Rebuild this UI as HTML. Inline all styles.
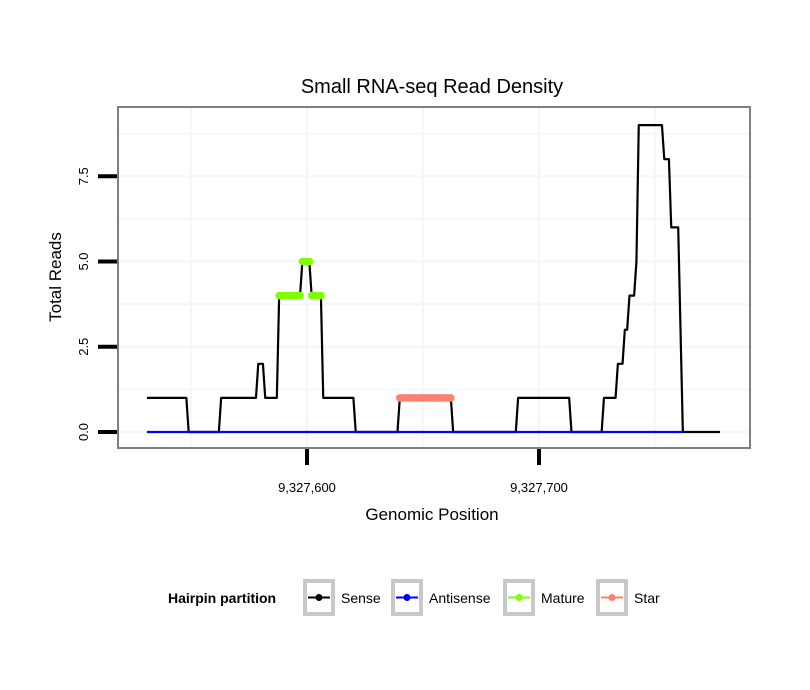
<!DOCTYPE html>
<html><head><meta charset="utf-8">
<style>
body{margin:0;background:#fff;}
svg{display:block;font-family:"Liberation Sans",Arial,sans-serif;}
</style></head>
<body>
<svg id="chart" width="810" height="690" viewBox="0 0 810 690" xmlns="http://www.w3.org/2000/svg">
<rect x="0" y="0" width="810" height="690" fill="#fff"/>
<text x="432" y="93" font-size="20" text-anchor="middle" fill="#000">Small RNA-seq Read Density</text>
<g id="grid"></g>
<g id="series"></g>
<rect x="118" y="107" width="632" height="341" fill="none" stroke="#7f7f7f" stroke-width="2"/>
<g id="axes"></g>
<text x="432" y="520" font-size="17" text-anchor="middle">Genomic Position</text>
<text transform="translate(61,277) rotate(-90)" font-size="17" text-anchor="middle">Total Reads</text>
<g>
<text x="168" y="603" font-size="14" font-weight="bold">Hairpin partition</text>
<g>
<rect x="305" y="581" width="28" height="33" fill="#fff" stroke="#c8c8c8" stroke-width="4"/>
<line x1="308" y1="597.5" x2="330" y2="597.5" stroke="#000" stroke-width="2"/><circle cx="319" cy="597.5" r="3.5" fill="#000"/>
<text x="341" y="603" font-size="14">Sense</text></g>
<g>
<rect x="393" y="581" width="28" height="33" fill="#fff" stroke="#c8c8c8" stroke-width="4"/>
<line x1="396" y1="597.5" x2="418" y2="597.5" stroke="#0000ff" stroke-width="2"/><circle cx="407" cy="597.5" r="3.5" fill="#0000ff"/>
<text x="429" y="603" font-size="14">Antisense</text></g>
<g>
<rect x="505" y="581" width="28" height="33" fill="#fff" stroke="#c8c8c8" stroke-width="4"/>
<line x1="508" y1="597.5" x2="530" y2="597.5" stroke="#7fff00" stroke-width="2"/><circle cx="519" cy="597.5" r="3.5" fill="#7fff00"/>
<text x="541" y="603" font-size="14">Mature</text></g>
<g>
<rect x="598" y="581" width="28" height="33" fill="#fff" stroke="#c8c8c8" stroke-width="4"/>
<line x1="601" y1="597.5" x2="623" y2="597.5" stroke="#fa8072" stroke-width="2"/><circle cx="612" cy="597.5" r="3.5" fill="#fa8072"/>
<text x="634" y="603" font-size="14">Star</text></g>
</g>
</svg>
<script>
// data (positions are offsets from 9,327,600)
const senseX = [-69,-52,-51,-38,-37,-22,-21,-19,-18,-13,-12,-3,-2,1,2,6,7,20,21,39,40,62,63,90,91,113,114,127,128,133,134,136,137,138,139,141,142,143,153,154,156,157,160,162,178];
const senseY = [1,1,0,0,1,1,2,2,1,1,4,4,5,5,4,4,1,1,0,0,1,1,0,0,1,1,0,0,1,1,2,2,3,3,4,4,5,9,9,8,8,6,6,0,0];
const antisenseX = [-69,162];
const antisenseY = [0,0];
const matureX = [-12,-11,-10,-9,-8,-7,-6,-5,-4,-3,-2,-1,0,1,2,3,4,5,6];
const matureY = [4,4,4,4,4,4,4,4,4,4,5,5,5,5,4,4,4,4,4];
const starX = [40,41,42,43,44,45,46,47,48,49,50,51,52,53,54,55,56,57,58,59,60,61,62];
const starY = [1,1,1,1,1,1,1,1,1,1,1,1,1,1,1,1,1,1,1,1,1,1,1];
const xTicks = [0,100];
const xTickLabels = ["9,327,600","9,327,700"];
const yTicks = [0,2.5,5,7.5];
const yTickLabels = ["0.0","2.5","5.0","7.5"];
const xMinor = [-50,50,150];
const yMinor = [1.25,3.75,6.25,8.75];

const NS="http://www.w3.org/2000/svg";
const sx = v => 307 + v*2.32;
const sy = v => 432 - v*34.1;
function mk(tag, attrs, parent){const e=document.createElementNS(NS,tag);for(const k in attrs)e.setAttribute(k,attrs[k]);parent.appendChild(e);return e;}
const grid=document.getElementById('grid'), series=document.getElementById('series'), axes=document.getElementById('axes');

xMinor.concat(xTicks).forEach(v=>{const l=mk('line',{x1:sx(v),x2:sx(v),y1:108,y2:447,stroke:'#f6f6f6','stroke-width':2},grid);

});
yMinor.concat(yTicks).forEach(v=>{const l=mk('line',{x1:119,x2:749,y1:sy(v),y2:sy(v),stroke:'#f6f6f6','stroke-width':2},grid);

});

function line(xs,ys,color,name){
  const pts=xs.map((x,i)=>sx(x)+','+sy(ys[i])).join(' ');
  const p=mk('polyline',{points:pts,fill:'none',stroke:color,'stroke-width':2.2,'stroke-linejoin':'round'},series);
  
  
}
function points(xs,ys,color,name){
  xs.forEach((x,i)=>{const c=mk('circle',{cx:sx(x),cy:sy(ys[i]),r:3.8,fill:color},series);
  
  });
}
line(senseX,senseY,'#000','sense-line');
line(antisenseX,antisenseY,'#0000ff','antisense-line');
points(matureX,matureY,'#7fff00','mature-point');
points(starX,starY,'#fa8072','star-point');

xTicks.forEach((v,i)=>{
  const t=mk('line',{x1:sx(v),x2:sx(v),y1:449,y2:465,stroke:'#000','stroke-width':4},axes);
  
  
  const tx=mk('text',{x:sx(v),y:492,'font-size':13,'text-anchor':'middle'},axes);
  tx.textContent=xTickLabels[i];
  
  
});
yTicks.forEach((v,i)=>{
  const t=mk('line',{x1:98,x2:117,y1:sy(v),y2:sy(v),stroke:'#000','stroke-width':4},axes);
  
  
  const tx=mk('text',{transform:'translate(88,'+sy(v)+') rotate(-90)','font-size':13,'text-anchor':'middle'},axes);
  tx.textContent=yTickLabels[i];
  
  
});
</script>
</body></html>
